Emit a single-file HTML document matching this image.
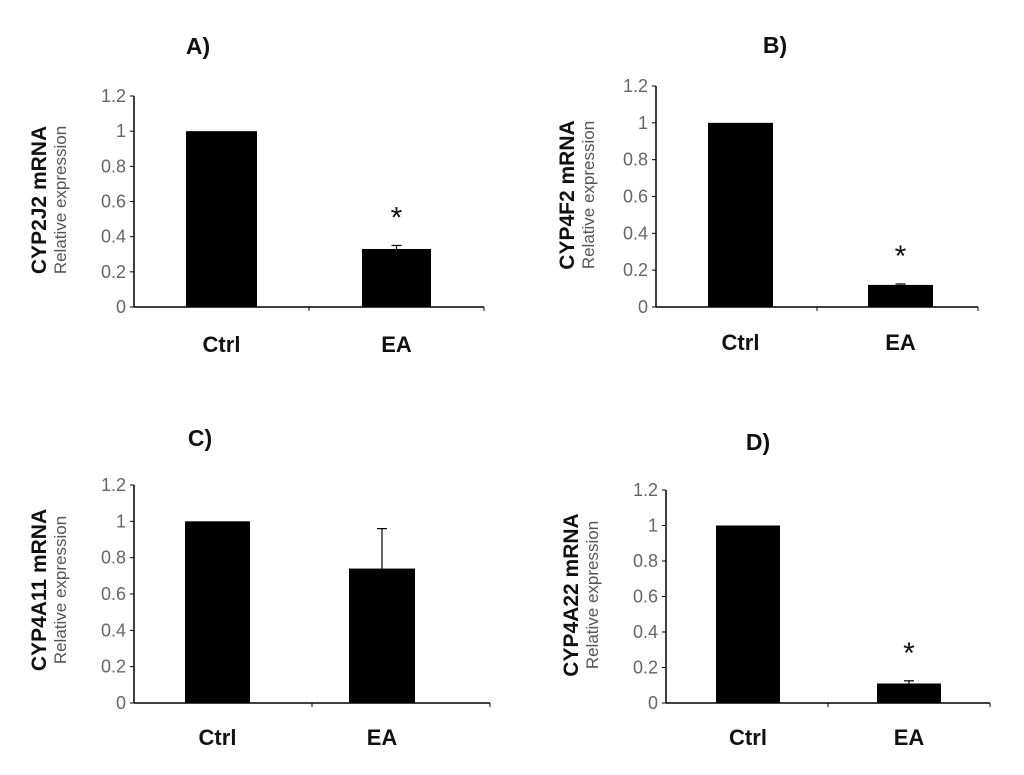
<!DOCTYPE html>
<html><head><meta charset="utf-8"><style>
body{margin:0;background:#fff;width:1024px;height:770px;overflow:hidden}
svg{font-family:"Liberation Sans",Arial,sans-serif}
</style></head><body>
<svg id="chart" width="1024" height="770" viewBox="0 0 1024 770"></svg>
<script>
const categories = ["Ctrl","EA"];
const panelLetters = ["A)","B)","C)","D)"];
const geneNames = ["CYP2J2 mRNA","CYP4F2 mRNA","CYP4A11 mRNA","CYP4A22 mRNA"];
const valuesA = [1, 0.33];
const valuesB = [1, 0.12];
const valuesC = [1, 0.74];
const valuesD = [1, 0.11];
const errorsA = [0, 0.02];
const errorsB = [0, 0.005];
const errorsC = [0, 0.22];
const errorsD = [0, 0.015];
const significant = [[false,true],[false,true],[false,false],[false,true]];
const yTicks = [0,0.2,0.4,0.6,0.8,1,1.2];
const yTickLabels = ["0","0.2","0.4","0.6","0.8","1","1.2"];

const layouts = [
 {ax:134,top:96,bot:307,right:484,bars:[[186,257],[362,431]],title:[198,54],titleX:38,subX:60,tcy:200,catY:352},
 {ax:656,top:86,bot:307,right:978,bars:[[708,773],[868,933]],title:[775,53],titleX:566,subX:588,tcy:195,catY:350},
 {ax:134,top:485,bot:703,right:490,bars:[[185,250],[349,415]],title:[200,446],titleX:38,subX:60,tcy:590,catY:745},
 {ax:666,top:490,bot:703,right:990,bars:[[716,780],[877,941]],title:[758,450],titleX:570,subX:592,tcy:595,catY:745}
];
const allValues=[valuesA,valuesB,valuesC,valuesD];
const allErrors=[errorsA,errorsB,errorsC,errorsD];
const svg=document.getElementById('chart');
const NS='http://www.w3.org/2000/svg';
function mk(tag,attrs,parent){const e=document.createElementNS(NS,tag);for(const k in attrs)e.setAttribute(k,attrs[k]);(parent||svg).appendChild(e);return e;}

layouts.forEach((L,p)=>{
  const g=mk('g',{});
  
  
  const y=v=>L.bot-(v/1.2)*(L.bot-L.top);
  const t=mk('text',{x:L.title[0],y:L.title[1],'font-size':23,'font-weight':'bold','text-anchor':'middle',fill:'#111'},g);
  t.textContent=panelLetters[p];
  
  
  const yt=mk('text',{x:0,y:0,'font-size':21,'font-weight':'bold','text-anchor':'middle',fill:'#111',transform:`translate(${L.titleX+8},${L.tcy}) rotate(-90)`},g);
  yt.textContent=geneNames[p];
  
  
  const ys=mk('text',{x:0,y:0,'font-size':17,'text-anchor':'middle',fill:'#555',transform:`translate(${L.subX+6},${L.tcy}) rotate(-90)`},g);
  ys.textContent='Relative expression';
  
  
  const ax=mk('line',{x1:L.ax,y1:L.top,x2:L.ax,y2:L.bot,stroke:'#000','stroke-width':1.5},g);
  
  
  const xa=mk('line',{x1:L.ax,y1:L.bot,x2:L.right,y2:L.bot,stroke:'#000','stroke-width':1.5},g);
  
  
  mk('line',{x1:(L.ax+L.right)/2,y1:L.bot,x2:(L.ax+L.right)/2,y2:L.bot+4,stroke:'#000'},g);
  mk('line',{x1:L.right,y1:L.bot,x2:L.right,y2:L.bot+4,stroke:'#000'},g);
  yTicks.forEach((v,i)=>{
    mk('line',{x1:L.ax-4,y1:y(v),x2:L.ax,y2:y(v),stroke:'#000'},g);
    const tl=mk('text',{x:L.ax-8,y:y(v)+6,'font-size':18,'text-anchor':'end',fill:'#666'},g);
    tl.textContent=yTickLabels[i];
    
    
  });
  categories.forEach((c,i)=>{
    const [x0,x1]=L.bars[i];const v=allValues[p][i],e=allErrors[p][i];
    const b=mk('rect',{x:x0,y:y(v),width:x1-x0,height:L.bot-y(v),fill:'#000'},g);
    
    
    const cx=(x0+x1)/2;
    if(e>0){
      mk('line',{x1:cx,y1:y(v),x2:cx,y2:y(v+e),stroke:'#000','stroke-width':1.2},g);
      mk('line',{x1:cx-5,y1:y(v+e),x2:cx+5,y2:y(v+e),stroke:'#000','stroke-width':1.2},g);
    }
    if(significant[p][i]){
      const s=mk('text',{x:cx,y:y(v+e)-18,'font-size':30,'text-anchor':'middle',fill:'#111'},g);
      s.textContent='*';
      
      
    }
    const cl=mk('text',{x:cx,y:L.catY,'font-size':22,'font-weight':'bold','text-anchor':'middle',fill:'#111'},g);
    cl.textContent=c;
    
    
  });
});
</script>
</body></html>
